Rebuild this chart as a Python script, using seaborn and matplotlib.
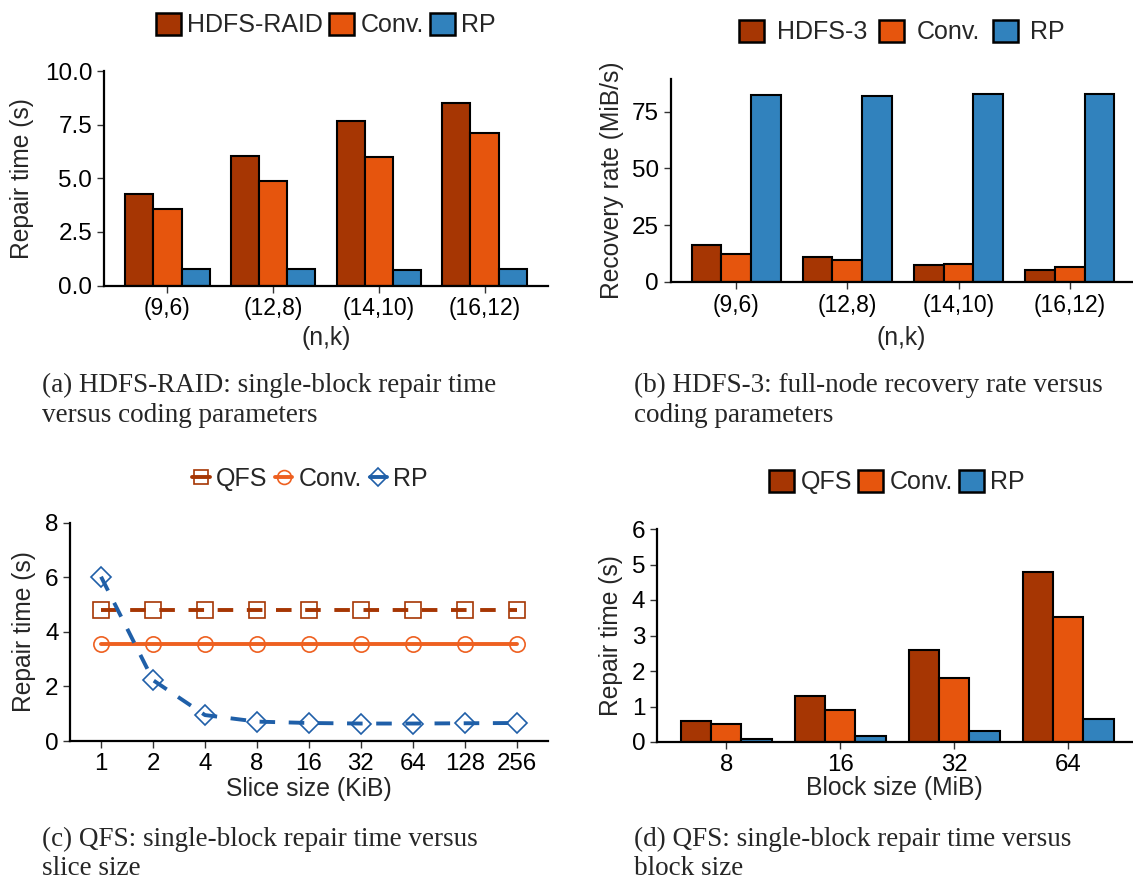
import numpy as np
import pandas as pd
import matplotlib
matplotlib.use('Agg')
import matplotlib.pyplot as plt
from matplotlib.lines import Line2D
from matplotlib.patches import Patch
from matplotlib.transforms import blended_transform_factory
import seaborn as sns

# dados
params = ['(9,6)', '(12,8)', '(14,10)', '(16,12)']
raid_hdfs = [4.27, 6.06, 7.66, 8.49]
raid_conv = [3.58, 4.89, 6.00, 7.12]
raid_rp = [0.75, 0.75, 0.74, 0.75]

h3_hdfs = [16.0, 10.8, 7.2, 5.2]
h3_conv = [12.2, 9.4, 7.7, 6.6]
h3_rp = [82.2, 81.9, 82.6, 82.8]

slices = ['1', '2', '4', '8', '16', '32', '64', '128', '256']
slice_qfs = [4.8, 4.8, 4.8, 4.8, 4.8, 4.8, 4.8, 4.8, 4.8]
slice_conv = [3.54, 3.54, 3.54, 3.54, 3.54, 3.54, 3.54, 3.54, 3.54]
slice_rp = [6.02, 2.23, 0.95, 0.71, 0.66, 0.64, 0.64, 0.65, 0.66]

blocks = ['8', '16', '32', '64']
block_qfs = [0.60, 1.29, 2.59, 4.79]
block_conv = [0.51, 0.91, 1.80, 3.53]
block_rp = [0.09, 0.17, 0.32, 0.64]

C_DARK = '#A63603'
C_ORANGE = '#E6550D'
C_BLUE = '#3182BD'

sns.set_style('ticks')
plt.rcParams['font.family'] = ['Liberation Sans', 'DejaVu Sans']

W, H = 1133, 883
fig = plt.figure(figsize=(W / 100, H / 100), dpi=100)


def rect(l, r, t, b):
    return [l / W, 1 - b / H, (r - l) / W, (b - t) / H]


def long_df(cats, names, series):
    rows = []
    for name, vals in zip(names, series):
        for c, v in zip(cats, vals):
            rows.append({'x': c, 'grupo': name, 'y': v})
    return pd.DataFrame(rows)


def estilo(ax, xfs, yfs, ylab, xlab, ylab_x, xlab_y):
    sns.despine(ax=ax)
    for s in ['left', 'bottom']:
        ax.spines[s].set_linewidth(1.6)
        ax.spines[s].set_color('black')
    ax.tick_params(axis='x', labelsize=xfs, length=5, width=1, colors='#333333', labelcolor='black')
    ax.tick_params(axis='y', labelsize=yfs, length=5, width=1, colors='#333333', labelcolor='black')
    ax.set_ylabel(ylab, fontsize=17.7, va='center')
    ax.set_xlabel(xlab, fontsize=17.8, va='center')
    ax.yaxis.set_label_coords(ylab_x / W, 0.5,
                              transform=blended_transform_factory(fig.transFigure, ax.transAxes))
    ax.xaxis.set_label_coords(0.5, 1 - xlab_y / H,
                              transform=blended_transform_factory(ax.transAxes, fig.transFigure))


def barras(ax, cats, names, series, centro, gap):
    df = long_df(cats, names, series)
    sns.barplot(data=df, x='x', y='y', hue='grupo', hue_order=names,
                palette=[C_DARK, C_ORANGE, C_BLUE], edgecolor='black',
                linewidth=1.5, saturation=1, legend=False, ax=ax, width=0.8)
    handles = [Patch(facecolor=c, edgecolor='black', linewidth=1.8)
               for c in [C_DARK, C_ORANGE, C_BLUE]]
    fig.legend(handles, names, frameon=False, ncol=3, loc='center',
               bbox_to_anchor=(centro[0] / W, 1 - centro[1] / H),
               prop={'size': 18}, handlelength=1.0, handleheight=1.0,
               handletextpad=gap, columnspacing=gap, borderaxespad=0, borderpad=0)


# (a)
ax1 = fig.add_axes(rect(104, 548, 71, 285.5))
barras(ax1, params, ['HDFS-RAID', 'Conv.', 'RP'], [raid_hdfs, raid_conv, raid_rp],
       (326, 25), 0.25)
ax1.set_xlim(-0.6, 3.6)
ax1.set_ylim(0, 10)
ax1.set_yticks([0, 2.5, 5, 7.5, 10])
ax1.set_yticklabels(['0.0', '2.5', '5.0', '7.5', '10.0'])
estilo(ax1, 16.5, 17.5, 'Repair time (s)', '(n,k)', 22, 338)

# (b)
ax2 = fig.add_axes(rect(670.5, 1132, 79, 281.7))
barras(ax2, params, ['HDFS-3', 'Conv.', 'RP'], [h3_hdfs, h3_conv, h3_rp],
       (902, 32), 0.5)
ax2.set_xlim(-0.59, 3.56)
ax2.set_ylim(0, 89.4)
ax2.set_yticks([0, 25, 50, 75])
estilo(ax2, 16.5, 17.5, 'Recovery rate (MiB/s)', '(n,k)', 612, 338)

# (c) linhas
ax3 = fig.add_axes(rect(70.4, 548, 522.7, 741))
df_c = long_df(slices, ['QFS', 'Conv.', 'RP'], [slice_qfs, slice_conv, slice_rp])
estilos = [
    dict(color=C_DARK, ls=(0, (4, 3.5)), marker='s', ms=11, mew=1.2),
    dict(color='#EE6020', ls='-', marker='o', ms=11, mew=1.2),
    dict(color='#1F5FA8', ls=(0, (4, 3.5)), marker='D', ms=10, mew=1.2),
]
sns.pointplot(data=df_c, x='x', y='y', hue='grupo', hue_order=['QFS', 'Conv.', 'RP'],
              palette=[st['color'] for st in estilos], markers=['s', 'o', 'D'],
              legend=False, ax=ax3, errorbar=None)
for ln, st in zip(ax3.lines[:3], estilos):
    ln.set_linestyle(st['ls'])
    ln.set_linewidth(2.8)
    ln.set_marker(st['marker'])
    ln.set_markersize(st['ms'])
    ln.set_markerfacecolor('none')
    ln.set_markeredgecolor(st['color'])
    ln.set_markeredgewidth(st['mew'])
    ln.set_color(st['color'])
handles = [Line2D([], [], color=st['color'], ls='-', lw=2.8, marker=st['marker'],
                  ms=st['ms'] - 1, mfc='none', mec=st['color'], mew=st['mew'])
           for st in estilos]
fig.legend(handles, ['QFS', 'Conv.', 'RP'], frameon=False, ncol=3, loc='center',
           bbox_to_anchor=(310 / W, 1 - 479 / H), prop={'size': 18},
           handlelength=0.7, handletextpad=0.25, columnspacing=0.3,
           borderaxespad=0, borderpad=0)
ax3.set_xlim(-0.59, 8.6)
ax3.set_ylim(0, 8)
ax3.set_yticks([0, 2, 4, 6, 8])
estilo(ax3, 17.3, 17.5, 'Repair time (s)', 'Slice size (KiB)', 24, 789)

# (d)
ax4 = fig.add_axes(rect(657, 1132, 529, 742))
barras(ax4, blocks, ['QFS', 'Conv.', 'RP'], [block_qfs, block_conv, block_rp],
       (897, 482), 0.25)
ax4.set_xlim(-0.607, 3.56)
ax4.set_ylim(0, 6)
ax4.set_yticks([0, 1, 2, 3, 4, 5, 6])
estilo(ax4, 17.3, 17.5, 'Repair time (s)', 'Block size (MiB)', 611, 788)

# legendas das figuras
cap = dict(family=['Liberation Serif', 'DejaVu Serif'], fontsize=19.5, va='baseline', ha='left')
fig.text(42 / W, 1 - 391.7 / H, '(a) HDFS-RAID: single-block repair time', **cap)
fig.text(42 / W, 1 - 422 / H, 'versus coding parameters', **cap)
fig.text(634 / W, 1 - 391.7 / H, '(b) HDFS-3: full-node recovery rate versus', **cap)
fig.text(634 / W, 1 - 422 / H, 'coding parameters', **cap)
fig.text(42 / W, 1 - 846 / H, '(c) QFS: single-block repair time versus', **cap)
fig.text(42 / W, 1 - 875 / H, 'slice size', **cap)
fig.text(634 / W, 1 - 846 / H, '(d) QFS: single-block repair time versus', **cap)
fig.text(634 / W, 1 - 875 / H, 'block size', **cap)

fig.savefig('out.png', dpi=100)
